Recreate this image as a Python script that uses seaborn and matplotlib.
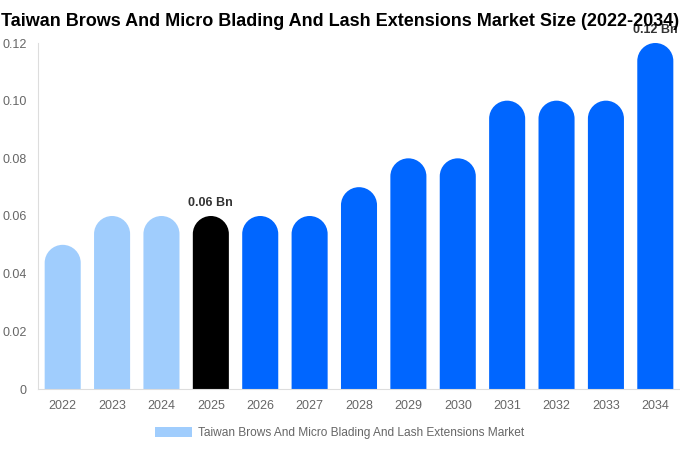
import matplotlib
matplotlib.use("Agg")
import matplotlib.pyplot as plt
import seaborn as sns
import pandas as pd
import numpy as np
from matplotlib.path import Path
from matplotlib.patches import PathPatch, Patch

years = ["2022", "2023", "2024", "2025", "2026", "2027", "2028", "2029", "2030", "2031", "2032", "2033", "2034"]
values = [0.05, 0.06, 0.06, 0.06, 0.06, 0.06, 0.07, 0.08, 0.08, 0.10, 0.10, 0.10, 0.12]
colors = ["#a0cdfd"] * 3 + ["#000000"] + ["#0066ff"] * 9
title = "Taiwan Brows And Micro Blading And Lash Extensions Market Size (2022-2034)"
legend_label = "Taiwan Brows And Micro Blading And Lash Extensions Market"
annotations = {"2025": "0.06 Bn", "2034": "0.12 Bn"}

sns.set_style("white")
plt.rcParams['font.family'] = ['Liberation Sans', 'DejaVu Sans']

df = pd.DataFrame({"year": years, "value": values})
fig = plt.figure(figsize=(6.8, 4.5), dpi=100)
ax = fig.add_axes([38/680, 61/450, 642/680, 346/450])
sns.barplot(data=df, x="year", y="value", hue="year", palette=colors, legend=False,
            width=0.73, ax=ax, saturation=1)
ax.set_xlim(-0.5, 12.5)
ax.set_ylim(0, 0.12)

# replace bars with rounded-top versions
fig.canvas.draw()
px_per_x = ax.transData.transform((1, 0))[0] - ax.transData.transform((0, 0))[0]
px_per_y = ax.transData.transform((0, 1))[1] - ax.transData.transform((0, 0))[1]
for p in list(ax.patches):
    x0, w, h = p.get_x(), p.get_width(), p.get_height()
    fc = p.get_facecolor()
    p.set_visible(False)
    rx = w / 2
    ry = rx * px_per_x / px_per_y
    ry = min(ry, h)
    k = 0.5523
    cx = x0 + rx
    top = h
    verts = [(x0, 0), (x0, top - ry),
             (x0, top - ry + k * ry), (cx - k * rx, top), (cx, top),
             (cx + k * rx, top), (x0 + w, top - ry + k * ry), (x0 + w, top - ry),
             (x0 + w, 0), (x0, 0)]
    codes = [Path.MOVETO, Path.LINETO, Path.CURVE4, Path.CURVE4, Path.CURVE4,
             Path.CURVE4, Path.CURVE4, Path.CURVE4, Path.LINETO, Path.CLOSEPOLY]
    ax.add_patch(PathPatch(Path(verts, codes), facecolor=fc, edgecolor='none', clip_on=False))

for i, (y, v) in enumerate(zip(years, values)):
    if y in annotations:
        ax.annotate(annotations[y], (i, v), xytext=(0, 5), textcoords="offset points",
                    ha="center", va="bottom", fontsize=9, fontweight="bold", color="#333333",
                    annotation_clip=False)

ax.set_xlabel("")
ax.set_ylabel("")
ax.set_yticks([0, 0.02, 0.04, 0.06, 0.08, 0.10, 0.12])
ax.set_yticklabels(["0", "0.02", "0.04", "0.06", "0.08", "0.10", "0.12"])
ax.tick_params(axis='both', colors='#666666', labelsize=9, length=0)
ax.tick_params(axis='x', pad=8)
ax.tick_params(axis='y', pad=8)
for s in ["top", "right"]:
    ax.spines[s].set_visible(False)
for s in ["left", "bottom"]:
    ax.spines[s].set_color("#dddddd")
    ax.spines[s].set_linewidth(0.8)

t = fig.text(0.5, 1 - 21/450, title, ha="center", va="center", fontsize=14.5,
             fontweight="bold", color="#000000")
r = fig.canvas.get_renderer()
wpx = t.get_window_extent(r).width
if wpx > 676:
    t.set_fontsize(14.5 * 676 / wpx)

handle = Patch(facecolor="#a0cdfd", edgecolor="none")
fig.legend([handle], [legend_label], loc="center", bbox_to_anchor=(0.5, 1 - 433/450),
           frameon=False, fontsize=8.6, labelcolor="#666666", handlelength=3.1, handleheight=0.9,
           handletextpad=0.5)

fig.savefig("out.png", dpi=100)
